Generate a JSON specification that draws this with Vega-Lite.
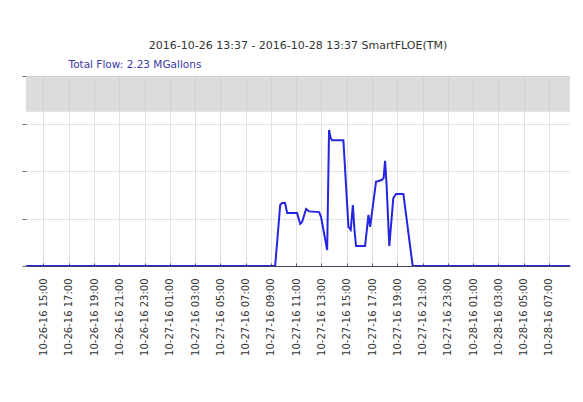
{
  "$schema": "https://vega.github.io/schema/vega-lite/v6.json",
  "width": 544,
  "height": 190,
  "autosize": "none",
  "padding": {"left": 26, "top": 76, "right": 13, "bottom": 136},
  "background": "white",
  "title": {
    "text": "2016-10-26 13:37 - 2016-10-28 13:37 SmartFLOE(TM)",
    "anchor": "middle",
    "font": "DejaVu Sans",
    "fontSize": 11,
    "fontWeight": "normal",
    "color": "#333333",
    "offset": 8
  },
  "config": {
    "view": {"stroke": null},
    "axis": {"labelFont": "DejaVu Sans", "titleFont": "DejaVu Sans"}
  },
  "layer": [
    {
      "data": {
        "values": [
          {"time": "2016-10-26T13:37:00Z", "flow": 0},
          {"time": "2016-10-27T09:20:00Z", "flow": 0},
          {"time": "2016-10-27T09:44:00Z", "flow": 2570},
          {"time": "2016-10-27T09:53:00Z", "flow": 2650},
          {"time": "2016-10-27T10:07:00Z", "flow": 2650},
          {"time": "2016-10-27T10:17:00Z", "flow": 2230},
          {"time": "2016-10-27T11:04:00Z", "flow": 2230},
          {"time": "2016-10-27T11:19:00Z", "flow": 1770},
          {"time": "2016-10-27T11:28:00Z", "flow": 1850},
          {"time": "2016-10-27T11:47:00Z", "flow": 2400},
          {"time": "2016-10-27T12:01:00Z", "flow": 2300},
          {"time": "2016-10-27T12:49:00Z", "flow": 2270},
          {"time": "2016-10-27T12:58:00Z", "flow": 2060},
          {"time": "2016-10-27T13:27:00Z", "flow": 670},
          {"time": "2016-10-27T13:36:00Z", "flow": 5730},
          {"time": "2016-10-27T13:43:00Z", "flow": 5400},
          {"time": "2016-10-27T13:50:00Z", "flow": 5300},
          {"time": "2016-10-27T14:44:00Z", "flow": 5300},
          {"time": "2016-10-27T15:08:00Z", "flow": 1650},
          {"time": "2016-10-27T15:19:00Z", "flow": 1520},
          {"time": "2016-10-27T15:29:00Z", "flow": 2570},
          {"time": "2016-10-27T15:36:00Z", "flow": 1600},
          {"time": "2016-10-27T15:44:00Z", "flow": 840},
          {"time": "2016-10-27T16:27:00Z", "flow": 840},
          {"time": "2016-10-27T16:43:00Z", "flow": 2150},
          {"time": "2016-10-27T16:51:00Z", "flow": 1650},
          {"time": "2016-10-27T17:19:00Z", "flow": 3550},
          {"time": "2016-10-27T17:46:00Z", "flow": 3620},
          {"time": "2016-10-27T17:55:00Z", "flow": 3700},
          {"time": "2016-10-27T18:02:00Z", "flow": 4430},
          {"time": "2016-10-27T18:09:00Z", "flow": 3450},
          {"time": "2016-10-27T18:22:00Z", "flow": 840},
          {"time": "2016-10-27T18:41:00Z", "flow": 2860},
          {"time": "2016-10-27T18:54:00Z", "flow": 3030},
          {"time": "2016-10-27T19:29:00Z", "flow": 3030},
          {"time": "2016-10-27T20:13:00Z", "flow": 0},
          {"time": "2016-10-28T13:37:00Z", "flow": 0}
        ]
      },
      "mark": {"type": "line", "color": "#2525e0", "strokeWidth": 2, "clip": true},
      "encoding": {
        "x": {
          "field": "time",
          "type": "temporal",
          "scale": {"type": "utc", "domain": [1477489020000, 1477644000000], "nice": false},
          "axis": {
            "title": null,
            "values": [1477494000000, 1477501200000, 1477508400000, 1477515600000, 1477522800000, 1477530000000, 1477537200000, 1477544400000, 1477551600000, 1477558800000, 1477566000000, 1477573200000, 1477580400000, 1477587600000, 1477594800000, 1477602000000, 1477609200000, 1477616400000, 1477623600000, 1477630800000, 1477638000000],
            "format": "%m-%d-%y %H:%M",
            "labelAngle": 270,
            "labelFontSize": 10,
            "labelColor": "#333333",
            "labelPadding": 15,
            "tickSize": -3,
            "tickColor": "#555555",
            "domainColor": "#444466",
            "grid": true,
            "gridColor": "#e2e2e2"
          }
        },
        "y": {
          "field": "flow",
          "type": "quantitative",
          "scale": {"domain": [0, 8000], "nice": false},
          "axis": {
            "values": [0, 1000, 2000, 3000, 4000, 5000, 6000, 7000, 8000],
            "tickCount": 8,
            "labels": false,
            "domain": false,
            "tickSize": 4,
            "tickColor": "#666666",
            "grid": true,
            "gridColor": "#e2e2e2",
            "title": "Total Flow: 2.23 MGallons",
            "titleAngle": 0,
            "titleAlign": "left",
            "titleBaseline": "middle",
            "titleX": 42,
            "titleY": -12,
            "titleColor": "#3a3aa8",
            "titleFontSize": 10.5,
            "titleFontWeight": "normal"
          }
        }
      }
    },
    {
      "data": {"values": [{"lo": 6500, "hi": 8000}]},
      "mark": {"type": "rect", "color": "#c4c4c4", "opacity": 0.6},
      "encoding": {
        "y": {
          "field": "lo",
          "type": "quantitative",
          "axis": {
            "values": [0, 1000, 2000, 3000, 4000, 5000, 6000, 7000, 8000],
            "tickCount": 8,
            "labels": false,
            "domain": false,
            "tickSize": 4,
            "tickColor": "#666666",
            "grid": true,
            "gridColor": "#e2e2e2",
            "title": "Total Flow: 2.23 MGallons",
            "titleAngle": 0,
            "titleAlign": "left",
            "titleBaseline": "middle",
            "titleX": 42,
            "titleY": -12,
            "titleColor": "#3a3aa8",
            "titleFontSize": 10.5,
            "titleFontWeight": "normal"
          }
        },
        "y2": {"field": "hi"}
      }
    }
  ]
}
